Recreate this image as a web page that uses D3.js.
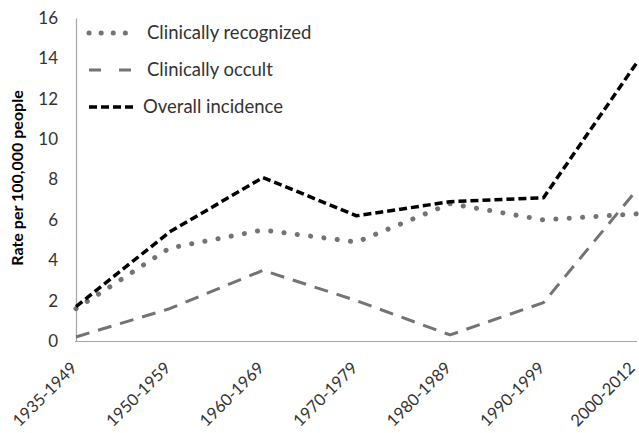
<!DOCTYPE html>
<html>
<head>
<meta charset="utf-8">
<script src="https://cdn.jsdelivr.net/npm/d3@7"></script>
<style>
  body { margin: 0; background: #fff; }
  text { font-family: Lato, "Open Sans", sans-serif; }
</style>
</head>
<body>
<script>
// periods on the x axis
const periods = ["1935-1949", "1950-1959", "1960-1969", "1970-1979", "1980-1989", "1990-1999", "2000-2012"];

// rates per 100,000 people
const recognized = [1.6, 4.6, 5.5, 4.9, 6.8, 6.0, 6.3];
const occult = [0.2, 1.6, 3.5, 2.0, 0.3, 1.9, 7.5];
const overall = [1.7, 5.4, 8.1, 6.2, 6.9, 7.1, 13.8];

const yTicks = [0, 2, 4, 6, 8, 10, 12, 14, 16];

const w = 639;
const h = 433;

const series = [
  { name: "Clinically recognized", values: recognized, color: "#737373", width: 5, dash: "0.1,13.3", cap: "round", legendDash: "0.1,12" },
  { name: "Clinically occult", values: occult, color: "#737373", width: 3, dash: "14,9", cap: "butt", legendDash: "12,18" },
  { name: "Overall incidence", values: overall, color: "#000", width: 3.5, dash: "8,4", cap: "butt", legendDash: "8,4" }
];

const xScale = d3.scalePoint()
  .domain(periods)
  .range([76, 637]);

const yScale = d3.scaleLinear()
  .domain([0, 16])
  .range([341, 18]);

const svg = d3.select("body")
  .append("svg")
  .attr("width", w)
  .attr("height", h);

// y axis
const yAxis = d3.axisLeft(yScale).tickValues(yTicks).tickSize(0).tickPadding(18);
const gy = svg.append("g")
  .attr("transform", "translate(76,0)")
  .call(yAxis);
gy.select(".domain").attr("stroke", "#a6a6a6").attr("stroke-width", 1.2);
gy.selectAll("text").attr("font-size", 17).attr("fill", "#333");

// x axis
const xAxis = d3.axisBottom(xScale).tickSize(0).tickFormat("");
const gx = svg.append("g")
  .attr("transform", "translate(0,341)")
  .call(xAxis);
gx.select(".domain").attr("stroke", "#a6a6a6").attr("stroke-width", 1.2).attr("d", "M75,0.5H637");

// rotated period labels, kept inside the right edge
svg.append("g")
  .selectAll("text")
  .data(periods)
  .enter()
  .append("text")
  .attr("transform", (d) => "translate(" + Math.min(xScale(d) - 2, 632) + ",365) rotate(-45)")
  .attr("text-anchor", "end")
  .attr("dy", "0.35em")
  .attr("font-size", 16.5)
  .attr("fill", "#333")
  .text((d) => d);

// axis title
svg.append("text")
  .attr("transform", "translate(23,178) rotate(-90)")
  .attr("text-anchor", "middle")
  .attr("font-size", 16)
  .attr("font-weight", "bold")
  .attr("fill", "#000")
  .text("Rate per 100,000 people");

// lines
const line = d3.line()
  .x((d, i) => xScale(periods[i]))
  .y((d) => yScale(d));

svg.selectAll("path.series")
  .data(series)
  .enter()
  .append("path")
  .attr("class", "series")
  .attr("fill", "none")
  .attr("stroke", (d) => d.color)
  .attr("stroke-width", (d) => d.width)
  .attr("stroke-dasharray", (d) => d.dash)
  .attr("stroke-linecap", (d) => d.cap)
  .attr("stroke-linejoin", "round")
  .attr("d", (d) => line(d.values));

// legend
const legend = svg.append("g");
const legendY = [33, 70, 107];
series.forEach((s, i) => {
  legend.append("line")
    .attr("x1", 89).attr("x2", 136)
    .attr("y1", legendY[i]).attr("y2", legendY[i])
    .attr("stroke", s.color)
    .attr("stroke-width", s.width)
    .attr("stroke-dasharray", s.legendDash)
    .attr("stroke-linecap", s.cap);
  legend.append("text")
    .attr("x", i === 2 ? 143 : 147)
    .attr("y", legendY[i])
    .attr("dy", "0.35em")
    .attr("font-size", 18.5)
    .attr("fill", "#333")
    .text(s.name);
});
</script>
</body>
</html>
